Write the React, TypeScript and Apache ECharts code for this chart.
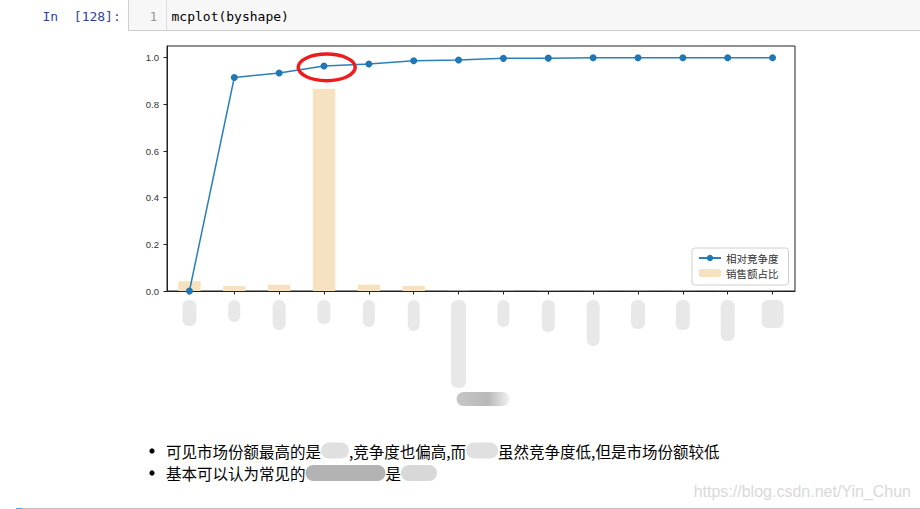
import React, { useEffect, useRef } from 'react';
import * as echarts from 'echarts';

// ---- data (category names are redacted in the reference) ----
const categories = ['A', 'B', 'C', 'D', 'E', 'F', 'G', 'H', 'I', 'J', 'K', 'L', 'M', 'N'];
const salesShare = [0.042, 0.021, 0.027, 0.867, 0.027, 0.022, 0.001, 0.001, 0.001, 0.0005, 0.0005, 0.0005, 0.0003, 0.0003];
const competition = [0.0, 0.915, 0.934, 0.964, 0.973, 0.987, 0.99, 0.997, 0.998, 1.0, 1.0, 1.0, 1.0, 1.0];
const yTicks = [0, 0.2, 0.4, 0.6, 0.8, 1.0];
const lineName = '相对竞争度';
const barName = '销售额占比';
const highlightIndex = 3;
const longLabelIndex = 6;

// ---- styles for the blurred (redacted) tick labels ----
const blobH = [26, 22, 30, 24, 27, 31, 88, 27, 32, 46, 29, 30, 41, 28];
const blobW = [14, 12, 13, 13, 12, 12, 15, 12, 13, 13, 14, 14, 14, 22];

const CJK = '"Noto Sans CJK SC", "Noto Sans", sans-serif';
const MONO = '"DejaVu Sans Mono", "Liberation Mono", monospace';

export default function App() {
  const ref = useRef<HTMLDivElement>(null);

  useEffect(() => {
    if (!ref.current) return;
    const chart = echarts.init(ref.current, undefined, { renderer: 'svg' });

    const rich: any = {};
    categories.forEach((_, i) => {
      rich['b' + i] = {
        width: blobW[i],
        height: blobH[i],
        lineHeight: blobH[i],
        backgroundColor: '#e8e8e8',
        borderRadius: 6,
      };
    });

    const axisColor = '#222';

    chart.setOption({
      animation: false,
      backgroundColor: '#ffffff',
      grid: {
        left: 167,
        top: 46,
        width: 628,
        height: 245,
        show: true,
        borderColor: axisColor,
        borderWidth: 1,
        backgroundColor: 'transparent',
      },
      legend: {
        orient: 'vertical',
        left: 692,
        top: 248,
        padding: [4, 10, 6, 6],
        itemWidth: 22,
        itemHeight: 8,
        itemGap: 3,
        itemTextGap: 10,
        backgroundColor: '#fff',
        borderColor: '#d0d0d0',
        borderWidth: 1,
        borderRadius: 3,
        textStyle: { fontSize: 10.5, color: '#333', fontFamily: CJK, lineHeight: 12 },
        data: [lineName, barName],
      },
      xAxis: {
        type: 'category',
        data: categories,
        boundaryGap: true,
        axisLine: { show: true, lineStyle: { color: axisColor, width: 1 } },
        axisTick: { show: true, alignWithLabel: true, length: 3.5, lineStyle: { color: axisColor } },
        axisLabel: {
          interval: 0,
          margin: 9,
          formatter: (_v: string, i: number) => `{b${i}| }`,
          rich,
        },
        splitLine: { show: false },
      },
      yAxis: {
        type: 'value',
        min: 0,
        max: 1.05,
        interval: 0.2,
        axisLine: { show: true, lineStyle: { color: axisColor, width: 1 } },
        axisTick: { show: true, length: 3.5, lineStyle: { color: axisColor }, customValues: yTicks },
        axisLabel: {
          customValues: yTicks,
          formatter: (v: number) => v.toFixed(1),
          fontSize: 9.5,
          color: '#333',
          margin: 8,
          fontFamily: '"Liberation Sans", "DejaVu Sans", sans-serif',
        },
        splitLine: { show: false },
      },
      series: [
        {
          name: barName,
          type: 'bar',
          data: salesShare,
          barWidth: '50%',
          itemStyle: { color: '#f6e2c0' },
          z: 1,
        },
        {
          name: lineName,
          type: 'line',
          data: competition,
          symbol: 'circle',
          symbolSize: 7,
          showSymbol: true,
          lineStyle: { color: '#2a7fba', width: 1.5 },
          itemStyle: { color: '#1f77b4' },
          z: 3,
        },
      ],
    });

    const hp = chart.convertToPixel({ gridIndex: 0 }, [highlightIndex, competition[highlightIndex]]) as number[];
    const lp = chart.convertToPixel({ gridIndex: 0 }, [longLabelIndex, 0]) as number[];

    const textRich = {
      t: { fontSize: 15.5, lineHeight: 18, fontFamily: CJK, fill: '#000' },
      k1: { width: 28, height: 16, lineHeight: 18, backgroundColor: '#e0e0e0', borderRadius: 8 },
      k2: { width: 32, height: 16, lineHeight: 18, backgroundColor: '#e0e0e0', borderRadius: 8 },
      k3: { width: 80, height: 16, lineHeight: 18, backgroundColor: '#b3b3b3', borderRadius: 8 },
      k4: { width: 36, height: 16, lineHeight: 18, backgroundColor: '#d8d8d8', borderRadius: 8 },
    };

    chart.setOption({
      graphic: [
        // notebook code cell
        {
          type: 'rect',
          shape: { x: 128.5, y: -1.5, width: 800, height: 32 },
          style: { fill: '#f7f7f7', stroke: '#cfcfcf', lineWidth: 1 },
          silent: true,
        },
        {
          type: 'line',
          shape: { x1: 166.5, y1: 0, x2: 166.5, y2: 30 },
          style: { stroke: '#dddddd', lineWidth: 1 },
          silent: true,
        },
        {
          type: 'text',
          x: 42.5,
          y: 16,
          style: { text: 'In  [128]:', font: `13px ${MONO}`, fill: '#303F9F', verticalAlign: 'middle' },
        },
        {
          type: 'text',
          x: 149.5,
          y: 16,
          style: { text: '1', font: `13px ${MONO}`, fill: '#999999', verticalAlign: 'middle' },
        },
        {
          type: 'text',
          x: 171.5,
          y: 16,
          style: { text: 'mcplot(byshape)', font: `13px ${MONO}`, fill: '#000000', verticalAlign: 'middle' },
        },
        // red annotation ellipse
        {
          type: 'ellipse',
          shape: { cx: hp[0] + 2.7, cy: hp[1] + 1.3, rx: 28.5, ry: 13.3 },
          style: { fill: 'none', stroke: '#ee1c1c', lineWidth: 3.5 },
          z: 10,
        },
        // trailing blurred piece of the long redacted label
        {
          type: 'rect',
          shape: { x: lp[0] - 2, y: lp[1] + 101, width: 53, height: 14, r: 7 },
          style: {
            fill: new echarts.graphic.LinearGradient(0, 0, 1, 0, [
              { offset: 0, color: '#c6c6c6' },
              { offset: 0.6, color: '#b9b9b9' },
              { offset: 1, color: '#f2f2f2' },
            ]),
          },
          silent: true,
        },
        // markdown bullets
        { type: 'circle', shape: { cx: 152, cy: 451, r: 2.6 }, style: { fill: '#000' } },
        { type: 'circle', shape: { cx: 152, cy: 473, r: 2.6 }, style: { fill: '#000' } },
        {
          type: 'text',
          x: 166,
          y: 450.5,
          style: {
            text: '{t|可见市场份额最高的是}{k1| }{t|,竞争度也偏高,而}{k2| }{t|虽然竞争度低,但是市场份额较低}',
            rich: textRich,
            verticalAlign: 'middle',
            fill: '#000',
          },
        },
        {
          type: 'text',
          x: 166,
          y: 473,
          style: {
            text: '{t|基本可以认为常见的}{k3| }{t|是}{k4| }',
            rich: textRich,
            verticalAlign: 'middle',
            fill: '#000',
          },
        },
        // watermark
        {
          type: 'text',
          x: 911,
          y: 491,
          style: {
            text: 'https://blog.csdn.net/Yin_Chun',
            font: '16px "Liberation Sans", Arial, sans-serif',
            fill: '#d9d9d9',
            align: 'right',
            verticalAlign: 'middle',
          },
        },
        // bottom cell border
        {
          type: 'line',
          shape: { x1: 16, y1: 508.5, x2: 920, y2: 508.5 },
          style: { stroke: '#bdbdbd', lineWidth: 1 },
          silent: true,
        },
        {
          type: 'line',
          shape: { x1: 16, y1: 508.5, x2: 22, y2: 508.5 },
          style: { stroke: '#42a5f5', lineWidth: 1 },
          silent: true,
        },
      ],
    });

    return () => chart.dispose();
  }, []);

  return (
    <div
      ref={ref}
      style={{ position: 'fixed', left: 0, top: 0, width: 920, height: 509, background: '#fff' }}
    />
  );
}
